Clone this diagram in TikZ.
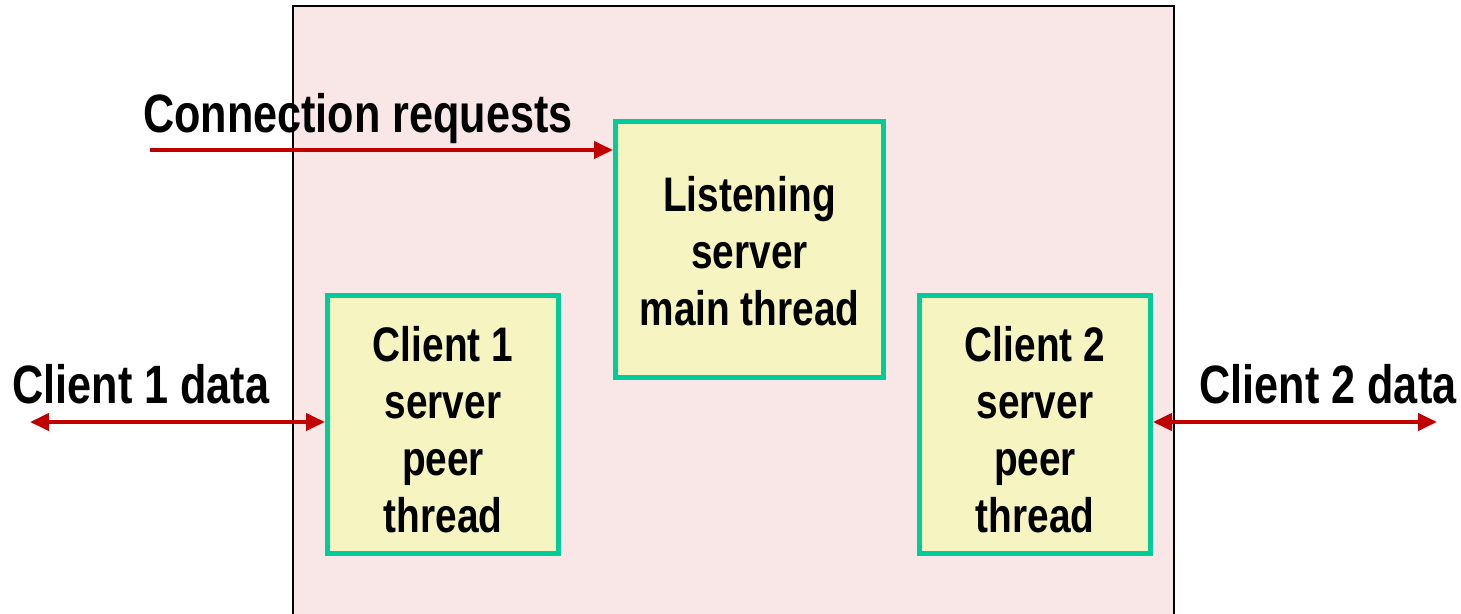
\documentclass[tikz,border=0pt]{standalone}
\usepackage{fontspec}
\setmainfont{Liberation Sans}[FakeStretch=0.8]
\usetikzlibrary{arrows.meta}
\definecolor{bgpink}{HTML}{F9E6E6}
\definecolor{boxyellow}{HTML}{F6F5C1}
\definecolor{boxgreen}{HTML}{00CC99}
\definecolor{arrred}{HTML}{C00000}
\tikzset{
  threadbox/.style={draw=boxgreen, line width=5pt, fill=boxyellow, inner sep=0pt},
  boxtext/.style={font=\fontsize{48.5}{57}\selectfont\bfseries, align=center, inner sep=0pt},
  lbl/.style={font=\fontsize{54}{60}\selectfont\bfseries, inner sep=0pt, anchor=base},
  redarrow/.style={draw=arrred, line width=4pt, -{Triangle[length=19pt,width=17pt]}},
  redboth/.style={draw=arrred, line width=4pt, {Triangle[length=19pt,width=17pt]}-{Triangle[length=19pt,width=17pt]}}
}
\begin{document}
\begin{tikzpicture}[x=1pt,y=-1pt]
\useasboundingbox (0,0) rectangle (1461,613);
% process rectangle
\draw[fill=bgpink, draw=black, line width=2pt] (293,6) rectangle (1174,616);
\node[inner sep=0pt] (proc) at (733.5,311) {};
% thread boxes
\node[threadbox, minimum width=268pt, minimum height=256pt] (main) at (749.5,249.5) {};
\node[threadbox, minimum width=231pt, minimum height=258pt] (c1) at (443,424.5) {};
\node[threadbox, minimum width=231pt, minimum height=258pt] (c2) at (1035,424.5) {};
\node[boxtext] (maintxt) at ([yshift=-2pt]main.center) {Listening\\server\\main thread};
\node[boxtext] (c1txt) at ([yshift=-5pt]c1.center) {Client 1\\server\\peer\\thread};
\node[boxtext] (c2txt) at ([yshift=-5pt]c2.center) {Client 2\\server\\peer\\thread};
% labels
\node[lbl] (connlbl) at (358,132) {Connection requests};
\node[lbl] (c1lbl) at (141,403) {Client 1 data};
\node[lbl] (c2lbl) at (1328,403) {Client 2 data};
% connectors
\coordinate (connstart) at (150,150);
\coordinate (c1end) at (30,422);
\coordinate (c2end) at (1437,422);
\draw[redarrow] (connstart) -- (connstart -| main.west);
\draw[redboth] (c1end) -- (c1end -| c1.west);
\draw[redboth] (c2end -| c2.east) -- (c2end);
\end{tikzpicture}
\end{document}
